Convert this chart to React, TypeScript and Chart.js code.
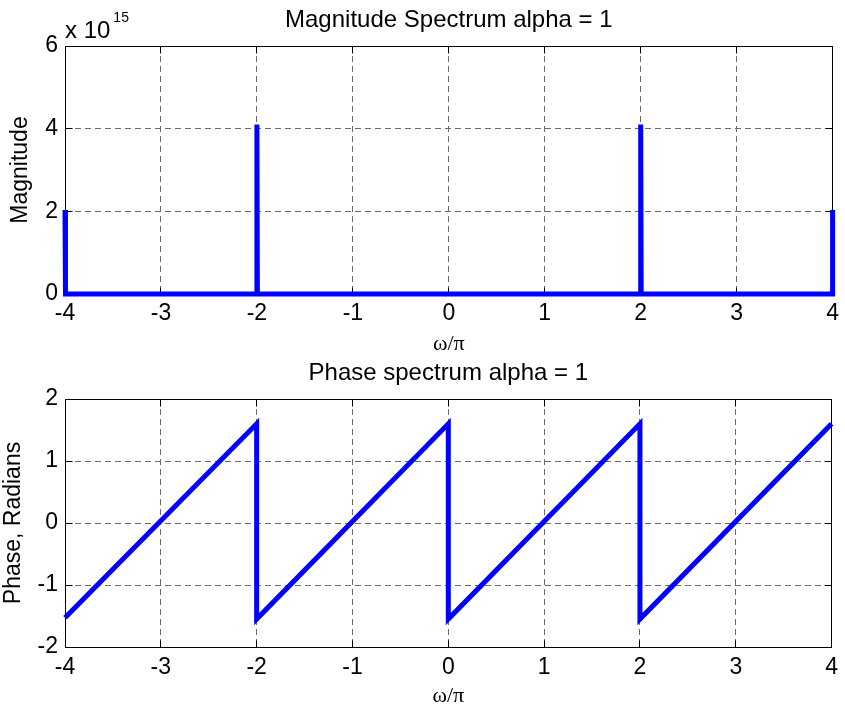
import React, { useEffect, useRef } from "react";
import { Chart, registerables } from "chart.js";

Chart.register(...registerables);

// Normalised frequency axis (ω/π)
const omegaTicks = [-4, -3, -2, -1, 0, 1, 2, 3, 4];

// Magnitude spectrum, in units of 10^15
const magnitudeOmega = [-4, -3.995, -2.005, -2, -1.995, 1.995, 2, 2.005, 3.995, 4];
const magnitudeE15 = [2.03, 0, 0, 4.1, 0, 0, 4.1, 0, 0, 2.03];
const magnitudeTicks = [0, 2, 4, 6];

// Phase spectrum, radians
const phaseOmega = [-4, -2, -2, 0, 0, 2, 2, 4];
const phaseRadians = [-1.53, 1.6, -1.55, 1.6, -1.55, 1.6, -1.55, 1.6];
const phaseTicks = [-2, -1, 0, 1, 2];

const SANS = '"Liberation Sans", Arial, Helvetica, sans-serif';
const SERIF = '"Liberation Serif", "Times New Roman", serif';
const BLUE = "#0000ff";

const align = (p: number) => Math.round(p - 0.5) + 0.5;

// Box frame with inward tick marks, drawn under the data line
const framePlugin = {
  id: "frameBox",
  beforeDatasetsDraw(chart: any) {
    const { ctx, chartArea } = chart;
    const l = align(chartArea.left);
    const r = align(chartArea.right);
    const t = align(chartArea.top);
    const b = align(chartArea.bottom);
    ctx.save();
    ctx.strokeStyle = "#000";
    ctx.lineWidth = 1;
    ctx.setLineDash([]);
    ctx.beginPath();
    const len = 7;
    chart.scales.x.ticks.forEach((tk: any) => {
      const x = align(chart.scales.x.getPixelForValue(tk.value));
      ctx.moveTo(x, b);
      ctx.lineTo(x, b - len);
      ctx.moveTo(x, t);
      ctx.lineTo(x, t + len);
    });
    chart.scales.y.ticks.forEach((tk: any) => {
      const y = align(chart.scales.y.getPixelForValue(tk.value));
      ctx.moveTo(l, y);
      ctx.lineTo(l + len, y);
      ctx.moveTo(r, y);
      ctx.lineTo(r - len, y);
    });
    ctx.stroke();
    ctx.strokeRect(l, t, r - l, b - t);
    ctx.restore();
  },
};

// Panel title and optional exponent label above the axes
const panelTextPlugin = {
  id: "panelText",
  afterDraw(chart: any, _args: any, opts: any) {
    const { ctx, chartArea } = chart;
    ctx.save();
    ctx.fillStyle = "#000";
    ctx.font = `24px ${SANS}`;
    ctx.textBaseline = "alphabetic";
    ctx.textAlign = "center";
    ctx.fillText(opts.title, (chartArea.left + chartArea.right) / 2, chartArea.top - 19);
    if (opts.exponent) {
      ctx.textAlign = "left";
      const base = "x 10";
      ctx.fillText(base, chartArea.left, chartArea.top - 8);
      const w = ctx.measureText(base).width;
      ctx.font = `14px ${SANS}`;
      ctx.fillText(opts.exponent, chartArea.left + w + 3, chartArea.top - 24);
    }
    ctx.restore();
  },
};

type PanelSpec = {
  canvasHeight: number;
  plotTop: number;
  plotBottom: number;
  xs: number[];
  ys: number[];
  yMin: number;
  yMax: number;
  yTicks: number[];
  yTitle: string;
  yTitlePad: number;
  xTickPad: number;
  xTitlePad: number;
  title: string;
  exponent?: string;
};

function buildChart(canvas: HTMLCanvasElement, spec: PanelSpec) {
  const gridStyle = {
    color: "#6a6a6a",
    lineWidth: 1,
    drawTicks: false,
    tickLength: 0,
  };
  const borderStyle = { display: false, dash: [6, 4] };
  return new Chart(canvas, {
    type: "line",
    data: {
      datasets: [
        {
          data: spec.xs.map((x, i) => ({ x, y: spec.ys[i] })),
          borderColor: BLUE,
          backgroundColor: BLUE,
          borderWidth: 5,
          pointRadius: 0,
          tension: 0,
          fill: false,
          clip: false as any,
        },
      ],
    },
    options: {
      responsive: false,
      animation: false,
      events: [],
      layout: { padding: { top: spec.plotTop, right: 12, left: 0, bottom: 0 } },
      plugins: {
        legend: { display: false },
        tooltip: { enabled: false },
        title: { display: false },
        panelText: { title: spec.title, exponent: spec.exponent },
      } as any,
      scales: {
        x: {
          type: "linear",
          min: -4,
          max: 4,
          afterBuildTicks: (s: any) => {
            s.ticks = omegaTicks.map((v) => ({ value: v }));
          },
          afterFit: (s: any) => {
            s.height = spec.canvasHeight - spec.plotBottom;
          },
          grid: gridStyle,
          border: borderStyle,
          ticks: {
            autoSkip: false,
            maxRotation: 0,
            padding: spec.xTickPad,
            color: "#000",
            font: { family: SANS, size: 23 },
          },
          title: {
            display: true,
            text: "ω/π",
            color: "#000",
            font: { family: SERIF, size: 22 },
            padding: { top: 0, bottom: spec.xTitlePad },
          },
        },
        y: {
          type: "linear",
          min: spec.yMin,
          max: spec.yMax,
          afterBuildTicks: (s: any) => {
            s.ticks = spec.yTicks.map((v) => ({ value: v }));
          },
          afterFit: (s: any) => {
            s.width = 65;
          },
          grid: gridStyle,
          border: borderStyle,
          ticks: {
            autoSkip: false,
            padding: 7,
            color: "#000",
            font: { family: SANS, size: 23 },
          },
          title: {
            display: true,
            text: spec.yTitle,
            color: "#000",
            font: { family: SANS, size: 23 },
            padding: { top: spec.yTitlePad, bottom: 0 },
          },
        },
      },
    } as any,
    plugins: [framePlugin, panelTextPlugin],
  });
}

const magnitudePanel: PanelSpec = {
  canvasHeight: 360,
  plotTop: 46,
  plotBottom: 294,
  xs: magnitudeOmega,
  ys: magnitudeE15,
  yMin: 0,
  yMax: 6,
  yTicks: magnitudeTicks,
  yTitle: "Magnitude",
  yTitlePad: 7,
  xTickPad: 6,
  xTitlePad: 3,
  title: "Magnitude Spectrum alpha = 1",
  exponent: "15",
};

const phasePanel: PanelSpec = {
  canvasHeight: 353,
  plotTop: 47,
  plotBottom: 295,
  xs: phaseOmega,
  ys: phaseRadians,
  yMin: -2,
  yMax: 2,
  yTicks: phaseTicks,
  yTitle: "Phase, Radians",
  yTitlePad: 0,
  xTickPad: 7,
  xTitlePad: -4,
  title: "Phase spectrum alpha = 1",
};

export default function App() {
  const topRef = useRef<HTMLCanvasElement>(null);
  const bottomRef = useRef<HTMLCanvasElement>(null);

  useEffect(() => {
    const charts: Chart[] = [];
    if (topRef.current) charts.push(buildChart(topRef.current, magnitudePanel));
    if (bottomRef.current) charts.push(buildChart(bottomRef.current, phasePanel));
    return () => charts.forEach((c) => c.destroy());
  }, []);

  return (
    <div
      style={{
        position: "fixed",
        left: 0,
        top: 0,
        width: 845,
        height: 705,
        background: "#fff",
        overflow: "hidden",
      }}
    >
      <canvas
        ref={topRef}
        width={845}
        height={magnitudePanel.canvasHeight}
        style={{ position: "absolute", left: 0, top: 0 }}
      />
      <canvas
        ref={bottomRef}
        width={845}
        height={phasePanel.canvasHeight}
        style={{ position: "absolute", left: 0, top: 352 }}
      />
    </div>
  );
}
